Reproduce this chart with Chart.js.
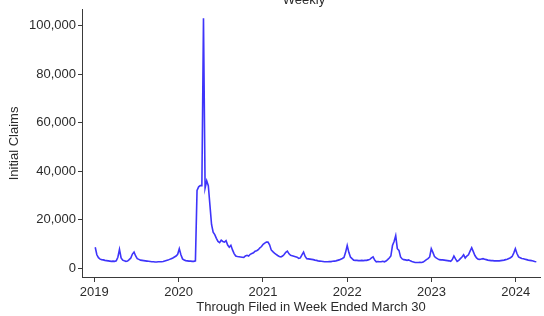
<!DOCTYPE html>
<html>
<head>
<meta charset="utf-8">
<script src="https://cdn.jsdelivr.net/npm/chart.js@4/dist/chart.umd.min.js"></script>
<style>
html,body{margin:0;padding:0;background:#ffffff;}
#wrap{width:544px;height:316px;position:relative;}
</style>
</head>
<body>
<div id="wrap"><canvas id="c" width="544" height="316"></canvas></div>
<script>
// ---- data ----
const chartTitle = 'Weekly';
const yAxisTitle = 'Initial Claims';
const xAxisTitle = 'Through Filed in Week Ended March 30';
const firstWeekEnding = '2019-01-05';   // weekly series, one value per week ending Saturday
const yearTicks = [2019, 2020, 2021, 2022, 2023, 2024];
const claimTicks = [0, 20000, 40000, 60000, 80000, 100000];

const claims2019 = [8600,5500,4300,3700,3500,3400,3200,3100,3000,2900,2800,2900,2800,3000,4500,7700,
  4200,3300,3000,2800,2900,3500,4200,5800,6600,5000,3900,3600,3300,3200,3100,3000,2900,2800,2700,2600,
  2600,2500,2500,2600,2600,2600,2700,2900,3100,3300,3600,3900,4200,4600,5000,5700];
const claims2020 = [8000,5500,3800,3300,3100,3000,2900,2900,2800,2800,3000,32000,33500,34000,34000,103000,
  33000,36000,34000,26000,18000,14800,13800,12300,11000,10500,11500,11000,10700,11300,9500,8600,9400,7500,
  6000,5000,4800,4700,4600,4500,4400,5000,5300,5000,5700,6000,6300,7000,7200,7600,8400,8900];
const claims2021 = [9800,10300,10700,10700,9600,7500,6800,6200,5700,5200,4800,4600,5000,5600,6500,7000,
  5900,5300,5100,4900,4700,4500,4000,4200,5500,6600,4800,3900,3800,3700,3600,3500,3300,3200,3000,2900,
  2800,2700,2600,2600,2600,2700,2700,2800,2900,3000,3200,3400,3700,4000,4400,6500];
const claims2022 = [9300,6500,4600,3900,3300,3200,3200,3100,3100,3200,3100,3200,3200,3400,3600,4200,
  4600,3300,2600,2700,2600,2600,2800,2600,2900,3500,4200,5000,9300,11000,13400,8000,7300,4600,3800,3500,
  3400,3200,3400,3000,2700,2500,2300,2300,2300,2400,2300,2500,3000,3500,3900,4600];
const claims2023 = [8000,6500,4800,4200,3800,3500,3400,3400,3300,3200,3100,3000,2800,3500,5000,3800,
  2800,3200,3900,4600,5500,4200,5000,5500,7000,8400,6800,5200,4200,3700,3600,3800,3900,3700,3500,3300,
  3200,3100,3100,3000,3000,3000,3000,3100,3200,3300,3500,3700,4000,4300,4800,6200];
const claims2024 = [8000,6000,4600,4300,4000,3900,3700,3500,3300,3200,3100,2900,2700,2600];

const claims = [].concat(claims2019, claims2020, claims2021, claims2022, claims2023, claims2024);

// ---- build points (week-ending dates -> fractional year on a linear axis) ----
function fracYear(d){
  const y = d.getUTCFullYear();
  const s = Date.UTC(y,0,1), e = Date.UTC(y+1,0,1);
  return y + (d.getTime() - s) / (e - s);
}
const start = new Date(firstWeekEnding + 'T00:00:00Z');
const points = claims.map((v, i) => {
  const d = new Date(start.getTime() + i * 7 * 86400000);
  return { x: fracYear(d), y: v };
});

const FONT = { family: '"Liberation Sans", Arial, Helvetica, sans-serif', size: 13 };
const TXT = '#2b2b2b';
const AX = '#3a3a3a';

const titlePlugin = {
  id: 'topTitle',
  afterDraw(chart){
    const ctx = chart.ctx;
    ctx.save();
    ctx.font = '13px "Liberation Sans", Arial, sans-serif';
    ctx.fillStyle = TXT;
    ctx.textAlign = 'center';
    ctx.textBaseline = 'alphabetic';
    ctx.fillText(chartTitle, 304, 4);
    ctx.restore();
  }
};

new Chart(document.getElementById('c'), {
  type: 'line',
  data: {
    datasets: [{
      data: points,
      borderColor: 'rgb(62,52,250)',
      borderWidth: 1.6,
      pointRadius: 0,
      tension: 0,
      fill: false
    }]
  },
  options: {
    responsive: false,
    animation: false,
    devicePixelRatio: 1,
    layout: { padding: { left: 0, right: 4, top: 6, bottom: 0 } },
    plugins: { legend: { display: false }, tooltip: { enabled: false }, title: { display: false } },
    scales: {
      x: {
        type: 'linear',
        min: 2018.854,
        max: 2024.287,
        afterBuildTicks(scale){ scale.ticks = yearTicks.map(v => ({ value: v })); },
        afterFit(scale){ scale.height = 39; },
        ticks: { font: FONT, color: TXT, padding: 3, maxRotation: 0, autoSkip: false,
                 callback: v => String(v) },
        grid: { drawOnChartArea: false, drawTicks: true, tickLength: 5, color: AX, lineWidth: 1 },
        border: { display: true, color: AX, width: 1 },
        title: { display: true, text: xAxisTitle, font: FONT, color: TXT, padding: { top: 0, bottom: 0.5 } }
      },
      y: {
        min: -3659,
        max: 106504,
        afterBuildTicks(scale){ scale.ticks = claimTicks.map(v => ({ value: v })); },
        afterFit(scale){ scale.width = 82; },
        ticks: { font: FONT, color: TXT, padding: 2, autoSkip: false,
                 callback: v => Number(v).toLocaleString('en-US') },
        grid: { drawOnChartArea: false, drawTicks: true, tickLength: 4, color: AX, lineWidth: 1 },
        border: { display: true, color: AX, width: 1 },
        title: { display: true, text: yAxisTitle, font: FONT, color: TXT, padding: { top: 6.5, bottom: 0 } }
      }
    }
  },
  plugins: [titlePlugin]
});
</script>
</body>
</html>
